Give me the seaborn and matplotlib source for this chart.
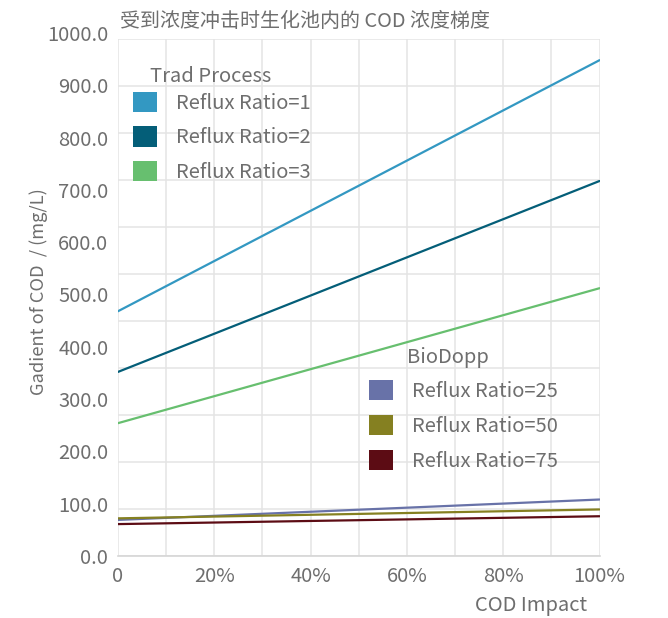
import numpy as np
import pandas as pd
import matplotlib
matplotlib.use("Agg")
import matplotlib.pyplot as plt
import seaborn as sns
from matplotlib.patches import Patch

# ---------------- data ----------------
title = "受到浓度冲击时生化池内的 COD 浓度梯度"
x_label = "COD Impact"
y_label = "Gadient of COD  / (mg/L)"

impact = [0.0, 1.0]

trad_group = "Trad Process"
trad_names = ["Reflux Ratio=1", "Reflux Ratio=2", "Reflux Ratio=3"]
trad_rr1 = [468, 948]
trad_rr2 = [352, 717]
trad_rr3 = [254, 512]
trad_colors = ["#3398c2", "#045e78", "#67bf6f"]

bio_group = "BioDopp"
bio_names = ["Reflux Ratio=25", "Reflux Ratio=50", "Reflux Ratio=75"]
bio_rr25 = [69, 108]
bio_rr50 = [72, 89]
bio_rr75 = [61, 76]
bio_colors = ["#6872a8", "#858021", "#5c0c14"]

x_ticks = [0, 0.2, 0.4, 0.6, 0.8, 1.0]
x_tick_labels = ["0", "20%", "40%", "60%", "80%", "100%"]
y_ticks = [0, 100, 200, 300, 400, 500, 600, 700, 800, 900, 1000]
y_tick_labels = ["0.0", "100.0", "200.0", "300.0", "400.0", "500.0",
                 "600.0", "700.0", "800.0", "900.0", "1000.0"]

# ---------------- table ----------------
rows = []
for name, vals in zip(trad_names, [trad_rr1, trad_rr2, trad_rr3]):
    for x, y in zip(impact, vals):
        rows.append({"series": trad_group + " " + name, "impact": x, "cod": y})
for name, vals in zip(bio_names, [bio_rr25, bio_rr50, bio_rr75]):
    for x, y in zip(impact, vals):
        rows.append({"series": bio_group + " " + name, "impact": x, "cod": y})
df = pd.DataFrame(rows)
order = [trad_group + " " + n for n in trad_names] + [bio_group + " " + n for n in bio_names]
palette = dict(zip(order, trad_colors + bio_colors))

# ---------------- style ----------------
sns.set_style("white")
plt.rcParams["font.family"] = ["Noto Sans CJK SC", "DejaVu Sans"]
TXT = "#6e6e6e"
GRID = "#e4e4e4"

W, H = 668, 618
fig = plt.figure(figsize=(W / 100, H / 100), dpi=100)

def fx(px):
    return px / W

def fy(py):
    return 1 - py / H

left, right = 118, 599.5
bottom, top_lab, top_grid = 556, 33, 39.3

# grid axes (11 horizontal divisions, 10 vertical)
axg = fig.add_axes([fx(left), fy(bottom), (right - left) / W, (bottom - top_grid) / H])
axg.set_xlim(0, 1)
axg.set_ylim(0, 11)
axg.set_xticks(np.linspace(0, 1, 11))
axg.set_yticks(np.arange(12))
axg.grid(True, color=GRID, lw=1.1)
axg.tick_params(length=0, labelleft=False, labelbottom=False)
for s in axg.spines.values():
    s.set_visible(False)
axg.spines["bottom"].set_visible(True)
axg.spines["bottom"].set_color("#d6d6d6")
axg.spines["bottom"].set_linewidth(1.2)

# data axes
ax = fig.add_axes([fx(left), fy(bottom), (right - left) / W, (bottom - top_lab) / H])
ax.patch.set_visible(False)
sns.lineplot(data=df, x="impact", y="cod", hue="series", hue_order=order,
             palette=palette, ax=ax, legend=False, linewidth=1.6)
ax.set_xlim(0, 1)
ax.set_ylim(0, 1000)
ax.set_xticks(x_ticks)
ax.set_xticklabels(x_tick_labels)
ax.set_yticks(y_ticks)
ax.set_yticklabels(y_tick_labels)
ax.tick_params(length=0, labelsize=14.5, colors=TXT)
ax.tick_params(axis="y", pad=7)
ax.tick_params(axis="x", pad=7)
ax.set_xlabel("")
ax.set_ylabel("")
for s in ax.spines.values():
    s.set_visible(False)

fig.text(fx(120), fy(21), title, ha="left", va="center", fontsize=14.4, color=TXT)
fig.text(fx(587), fy(606), x_label, ha="right", va="center", fontsize=14.5, color=TXT)
fig.text(fx(38.5), fy(292), y_label, ha="center", va="center", rotation=90,
         fontsize=13.2, color=TXT)

# legends
def make_legend(names, colors, x, y, spacing):
    handles = [Patch(facecolor=c, edgecolor="none", label=n) for n, c in zip(names, colors)]
    leg = fig.legend(handles=handles, loc="upper left", bbox_to_anchor=(fx(x), fy(y)),
                     bbox_transform=fig.transFigure, frameon=False, borderpad=0,
                     borderaxespad=0, fontsize=14.5, handlelength=1.2, handleheight=1.2,
                     handletextpad=0.95, labelspacing=spacing, labelcolor=TXT)
    return leg

make_legend(trad_names, trad_colors, 133, 91.5, 0.62)
make_legend(bio_names, bio_colors, 368.5, 379.5, 0.64)
fig.text(fx(150.5), fy(81.7), trad_group, ha="left", va="baseline", fontsize=14.5, color=TXT)
fig.text(fx(407.3), fy(363.3), bio_group, ha="left", va="baseline", fontsize=14.5, color=TXT)

fig.savefig("out.png", dpi=100)
